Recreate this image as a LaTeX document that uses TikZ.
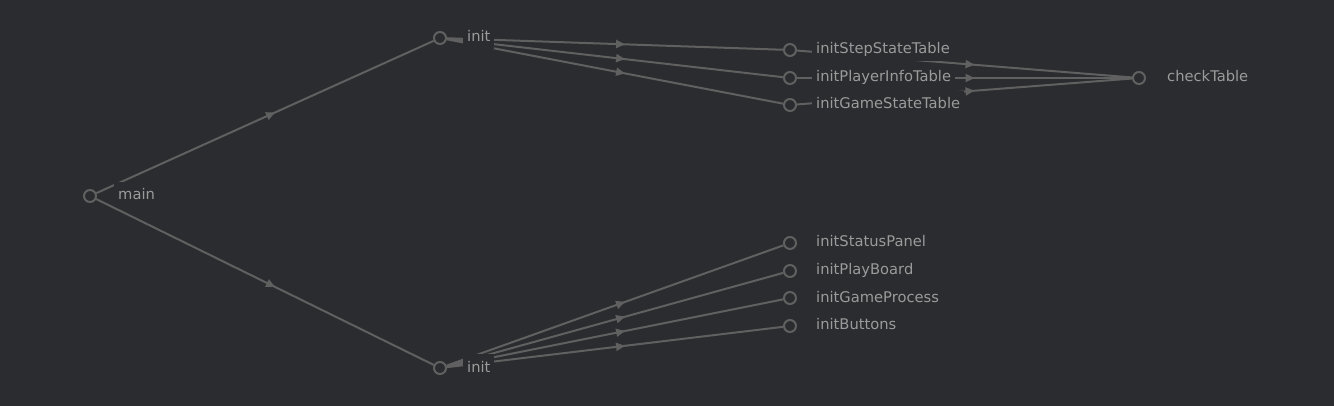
\documentclass[tikz,border=0pt]{standalone}
\usepackage{fontspec}
\setmainfont{DejaVu Sans}
\usetikzlibrary{positioning, decorations.markings, arrows.meta}
\definecolor{bgdark}{HTML}{2B2C2F}
\definecolor{edgegray}{HTML}{606060}
\definecolor{textgray}{HTML}{9B9B9B}

\begin{document}
\begin{tikzpicture}[x=1pt, y=-1pt,
  fn/.style={circle, draw=edgegray, line width=2pt, fill=bgdark, minimum size=12pt, inner sep=0pt},
  fnlabel/.style={fill=bgdark, text=textgray, font=\fontsize{14.7}{17}\selectfont,
    inner xsep=4pt, inner ysep=4pt, text height=14pt, text depth=3pt},
  call/.style={draw=edgegray, line width=2pt, postaction={decorate},
    decoration={markings, mark=at position 0.53 with {\arrow[edgegray]{Triangle[length=9pt, width=8pt]}}}}
]
  % Background (fixes the margins)
  \fill[bgdark] (0,0) rectangle (1334,406);

  % Call sites (circles)
  \node[fn] (main) at (90,196) {};
  \node[fn] (initTop) at (440,38) {};
  \node[fn] (initBot) at (440,368) {};
  \node[fn] (stepTable) at (790,50) {};
  \node[fn] (playerTable) at (790,78) {};
  \node[fn] (gameTable) at (790,105) {};
  \node[fn] (checkTable) at (1139,78) {};
  \node[fn] (statusPanel) at (790,243) {};
  \node[fn] (playBoard) at (790,271) {};
  \node[fn] (gameProcess) at (790,298) {};
  \node[fn] (buttons) at (790,326) {};

  % Calls
  \draw[call] (main) -- (initTop);
  \draw[call] (main) -- (initBot);
  \foreach \t in {stepTable, playerTable, gameTable}
    \draw[call] (initTop) -- (\t);
  \foreach \t in {stepTable, playerTable, gameTable}
    \draw[call] (\t) -- (checkTable);
  \foreach \t in {statusPanel, playBoard, gameProcess, buttons}
    \draw[call] (initBot) -- (\t);

  % Names (drawn last so they hide the lines below them)
  \node[fnlabel, right=17pt of main, yshift=1.5pt] (mainL) {main};
  \node[fnlabel, right=16pt of initTop, yshift=1.5pt] (initTopL) {init};
  \node[fnlabel, right=16pt of initBot, yshift=1.5pt] (initBotL) {init};
  \node[fnlabel, right=15pt of stepTable, yshift=1.5pt] (stepTableL) {initStepStateTable};
  \node[fnlabel, right=15pt of playerTable, yshift=1.5pt] (playerTableL) {initPlayerInfoTable};
  \node[fnlabel, right=15pt of gameTable, yshift=1.5pt] (gameTableL) {initGameStateTable};
  \node[fnlabel, right=17pt of checkTable, yshift=1.5pt] (checkTableL) {checkTable};
  \node[fnlabel, right=15pt of statusPanel, yshift=1.5pt] (statusPanelL) {initStatusPanel};
  \node[fnlabel, right=15pt of playBoard, yshift=1.5pt] (playBoardL) {initPlayBoard};
  \node[fnlabel, right=15pt of gameProcess, yshift=1.5pt] (gameProcessL) {initGameProcess};
  \node[fnlabel, right=15pt of buttons, yshift=1.5pt] (buttonsL) {initButtons};
\end{tikzpicture}
\end{document}
